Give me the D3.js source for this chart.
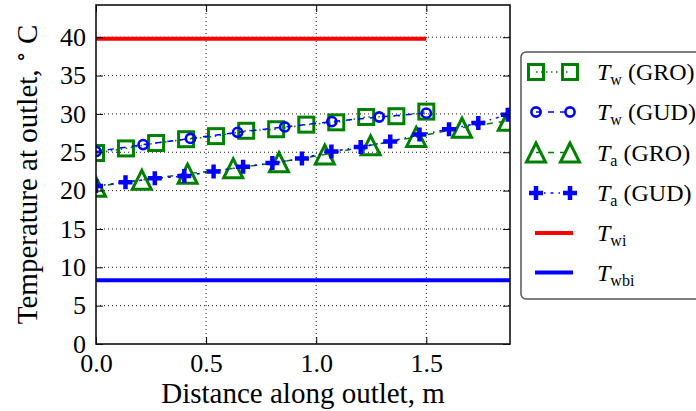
<!DOCTYPE html>
<html>
<head>
<meta charset="utf-8">
<script src="https://cdnjs.cloudflare.com/ajax/libs/d3/7.8.5/d3.min.js"></script>
<style>
  html, body { margin: 0; padding: 0; background: #fff; }
  svg { display: block; }
  text { font-family: "Liberation Serif", "DejaVu Serif", "Times New Roman", serif; fill: #000; }
</style>
</head>
<body>
<div id="chart"></div>
<script>
// Outlet temperature profiles along the outlet length
const xTwGro = [0, 0.136, 0.273, 0.409, 0.545, 0.682, 0.818, 0.955, 1.091, 1.227, 1.364, 1.5];
const twGro  = [24.9, 25.5, 26.2, 26.7, 27.1, 27.8, 28.0, 28.6, 28.9, 29.6, 29.7, 30.3];

const xTwGud = [0, 0.214, 0.429, 0.643, 0.857, 1.071, 1.286, 1.5];
const twGud  = [25.1, 26.0, 26.8, 27.6, 28.3, 29.0, 29.6, 30.1];

const xTaGro = [0, 0.208, 0.416, 0.623, 0.831, 1.039, 1.247, 1.454, 1.662, 1.87];
const taGro  = [20.5, 21.4, 22.2, 22.9, 23.7, 24.7, 25.9, 27.0, 28.2, 29.1];

const xTaGud = [0, 0.134, 0.267, 0.401, 0.534, 0.668, 0.801, 0.935, 1.069, 1.202, 1.336, 1.469, 1.603, 1.736, 1.87];
const taGud  = [20.6, 21.1, 21.6, 21.9, 22.5, 23.1, 23.6, 24.2, 25.1, 25.7, 26.4, 27.3, 28.0, 28.8, 29.9];

// inlet water temperature (over the wetted length) and inlet wet-bulb temperature
const twiExtent = [0, 1.5];
const twi = 39.8;
const twbiExtent = [0, 1.88];
const twbi = 8.3;

const xTicks = [0.0, 0.5, 1.0, 1.5];
const yTicks = [0, 5, 10, 15, 20, 25, 30, 35, 40];
const xDomain = [0, 1.88];
const yDomain = [0, 44.2];

const W = 696, H = 411;
const plot = { left: 96, right: 510, top: 5, bottom: 344 };
const GREEN = "#008000", BLUE = "#0000ff", RED = "#ff0000";

const svg = d3.select("#chart").append("svg").attr("width", W).attr("height", H);

const x = d3.scaleLinear().domain(xDomain).range([plot.left, plot.right]);
const y = d3.scaleLinear().domain(yDomain).range([plot.bottom, plot.top]);

svg.append("defs").append("clipPath").attr("id", "plotClip")
  .append("rect")
  .attr("x", plot.left).attr("y", plot.top)
  .attr("width", plot.right - plot.left).attr("height", plot.bottom - plot.top);

// dotted grid
const grid = svg.append("g");
grid.selectAll("line.gx").data(xTicks.filter(d => d > 0)).join("line")
  .attr("x1", d => x(d)).attr("x2", d => x(d))
  .attr("y1", plot.top).attr("y2", plot.bottom)
  .attr("stroke", "#000").attr("stroke-width", 0.9).attr("stroke-dasharray", "1,3");
grid.selectAll("line.gy").data(yTicks.filter(d => d > 0)).join("line")
  .attr("x1", plot.left).attr("x2", plot.right)
  .attr("y1", d => y(d)).attr("y2", d => y(d))
  .attr("stroke", "#000").attr("stroke-width", 0.9).attr("stroke-dasharray", "1,3");

// marker shapes
function drawMarker(g, type, cx, cy, color) {
  if (type === "square") {
    g.append("rect").attr("x", cx - 7.5).attr("y", cy - 7.5).attr("width", 15).attr("height", 15)
      .attr("fill", "none").attr("stroke", color).attr("stroke-width", 3);
  } else if (type === "circle") {
    g.append("circle").attr("cx", cx).attr("cy", cy).attr("r", 4.6)
      .attr("fill", "none").attr("stroke", color).attr("stroke-width", 2.6);
  } else if (type === "triangle") {
    const s = 9.5;
    g.append("path").attr("d", `M${cx},${cy - s}L${cx - s},${cy + s}L${cx + s},${cy + s}Z`)
      .attr("fill", "none").attr("stroke", color).attr("stroke-width", 3).attr("stroke-linejoin", "miter");
  } else if (type === "plus") {
    const s = 7;
    g.append("path").attr("d", `M${cx - s},${cy}H${cx + s}M${cx},${cy - s}V${cy + s}`)
      .attr("fill", "none").attr("stroke", color).attr("stroke-width", 4.5);
  }
}

const series = [
  { xs: xTwGro, ys: twGro, color: GREEN, marker: "square",   dash: "1.5,3.5" },
  { xs: xTwGud, ys: twGud, color: BLUE,  marker: "circle",   dash: "6,6" },
  { xs: xTaGro, ys: taGro, color: GREEN, marker: "triangle", dash: "6,6" },
  { xs: xTaGud, ys: taGud, color: BLUE,  marker: "plus",     dash: "3,5,1.5,5" }
];

const plotArea = svg.append("g").attr("clip-path", "url(#plotClip)");
const line = d3.line().x(d => x(d[0])).y(d => y(d[1]));

series.forEach(s => {
  const pts = s.xs.map((v, i) => [v, s.ys[i]]);
  const g = plotArea.append("g");
  g.append("path").attr("d", line(pts)).attr("fill", "none")
    .attr("stroke", s.color).attr("stroke-width", 1.5).attr("stroke-dasharray", s.dash);
  pts.forEach(p => drawMarker(g, s.marker, x(p[0]), y(p[1]), s.color));
});

// reference temperatures
plotArea.append("line")
  .attr("x1", x(twiExtent[0])).attr("x2", x(twiExtent[1]))
  .attr("y1", y(twi)).attr("y2", y(twi))
  .attr("stroke", RED).attr("stroke-width", 4);
plotArea.append("line")
  .attr("x1", x(twbiExtent[0])).attr("x2", x(twbiExtent[1]))
  .attr("y1", y(twbi)).attr("y2", y(twbi))
  .attr("stroke", BLUE).attr("stroke-width", 4);

// axes with inward ticks on all sides
const tickLen = 7;
const axisG = svg.append("g");
const xAxis = d3.axisBottom(x).tickValues(xTicks).tickFormat(d3.format(".1f")).tickSizeInner(-tickLen).tickSizeOuter(0).tickPadding(10);
const yAxis = d3.axisLeft(y).tickValues(yTicks).tickFormat(d3.format("d")).tickSizeInner(-tickLen).tickSizeOuter(0).tickPadding(10);
const xTop = d3.axisTop(x).tickValues(xTicks).tickFormat("").tickSizeInner(-tickLen).tickSizeOuter(0);
const yRight = d3.axisRight(y).tickValues(yTicks).tickFormat("").tickSizeInner(-tickLen).tickSizeOuter(0);

const gx = axisG.append("g").attr("transform", `translate(0,${plot.bottom})`).call(xAxis);
const gy = axisG.append("g").attr("transform", `translate(${plot.left},0)`).call(yAxis);
const gxt = axisG.append("g").attr("transform", `translate(0,${plot.top})`).call(xTop);
const gyr = axisG.append("g").attr("transform", `translate(${plot.right},0)`).call(yRight);

[gx, gy, gxt, gyr].forEach(g => {
  g.select(".domain").remove();
  g.selectAll(".tick line").attr("stroke", "#000").attr("stroke-width", 1);
  g.selectAll(".tick text").attr("font-size", 26).attr("fill", "#000")
    .style("font-family", '"Liberation Serif", "DejaVu Serif", serif');
});

axisG.append("rect")
  .attr("x", plot.left).attr("y", plot.top)
  .attr("width", plot.right - plot.left).attr("height", plot.bottom - plot.top)
  .attr("fill", "none").attr("stroke", "#111").attr("stroke-width", 1.6);

// axis titles
svg.append("text")
  .attr("x", (plot.left + plot.right) / 2).attr("y", 403)
  .attr("text-anchor", "middle").attr("font-size", 29)
  .text("Distance along outlet, m");

const yl = svg.append("text")
  .attr("transform", `translate(37,${(plot.top + plot.bottom) / 2}) rotate(-90)`)
  .attr("text-anchor", "middle").attr("font-size", 29);
yl.append("tspan").text("Temperature at outlet, ");
yl.append("tspan").attr("dy", -9).attr("font-size", 22).text("\u2218");
yl.append("tspan").attr("dy", 9).text(" C");

// legend
const legendRows = [
  { marker: "square",   color: GREEN, dash: "1.5,3.5", sym: "T", sub: "w",   tail: " (GRO)" },
  { marker: "circle",   color: BLUE,  dash: "6,6",     sym: "T", sub: "w",   tail: " (GUD)" },
  { marker: "triangle", color: GREEN, dash: "6,6",     sym: "T", sub: "a",   tail: " (GRO)" },
  { marker: "plus",     color: BLUE,  dash: "3,5,1.5,5", sym: "T", sub: "a", tail: " (GUD)" },
  { marker: null,       color: RED,   dash: null,      sym: "T", sub: "wi",  tail: "" },
  { marker: null,       color: BLUE,  dash: null,      sym: "T", sub: "wbi", tail: "" }
];
const rowY = [72, 112, 152.5, 193, 233, 272.5];

const legend = svg.append("g");
legend.append("rect")
  .attr("x", 521).attr("y", 52).attr("width", 200).attr("height", 247)
  .attr("rx", 5).attr("ry", 5)
  .attr("fill", "#fff").attr("stroke", "#555").attr("stroke-width", 1.5);

legendRows.forEach((r, i) => {
  const cy = rowY[i];
  const g = legend.append("g");
  const x0 = 536, x1 = 570;
  if (r.marker) {
    g.append("line").attr("x1", x0).attr("x2", x1).attr("y1", cy).attr("y2", cy)
      .attr("stroke", r.color).attr("stroke-width", 1.5).attr("stroke-dasharray", r.dash);
    drawMarker(g, r.marker, x0, cy, r.color);
    drawMarker(g, r.marker, x1, cy, r.color);
  } else {
    g.append("line").attr("x1", 535).attr("x2", 573).attr("y1", cy).attr("y2", cy)
      .attr("stroke", r.color).attr("stroke-width", 4);
  }
  const t = g.append("text").attr("x", 597).attr("y", cy + 8).attr("font-size", 24);
  t.append("tspan").attr("font-style", "italic").text(r.sym);
  t.append("tspan").attr("font-size", 16).attr("dy", 5).text(r.sub);
  if (r.tail) t.append("tspan").attr("dy", -5).text(r.tail);
});
</script>
</body>
</html>
